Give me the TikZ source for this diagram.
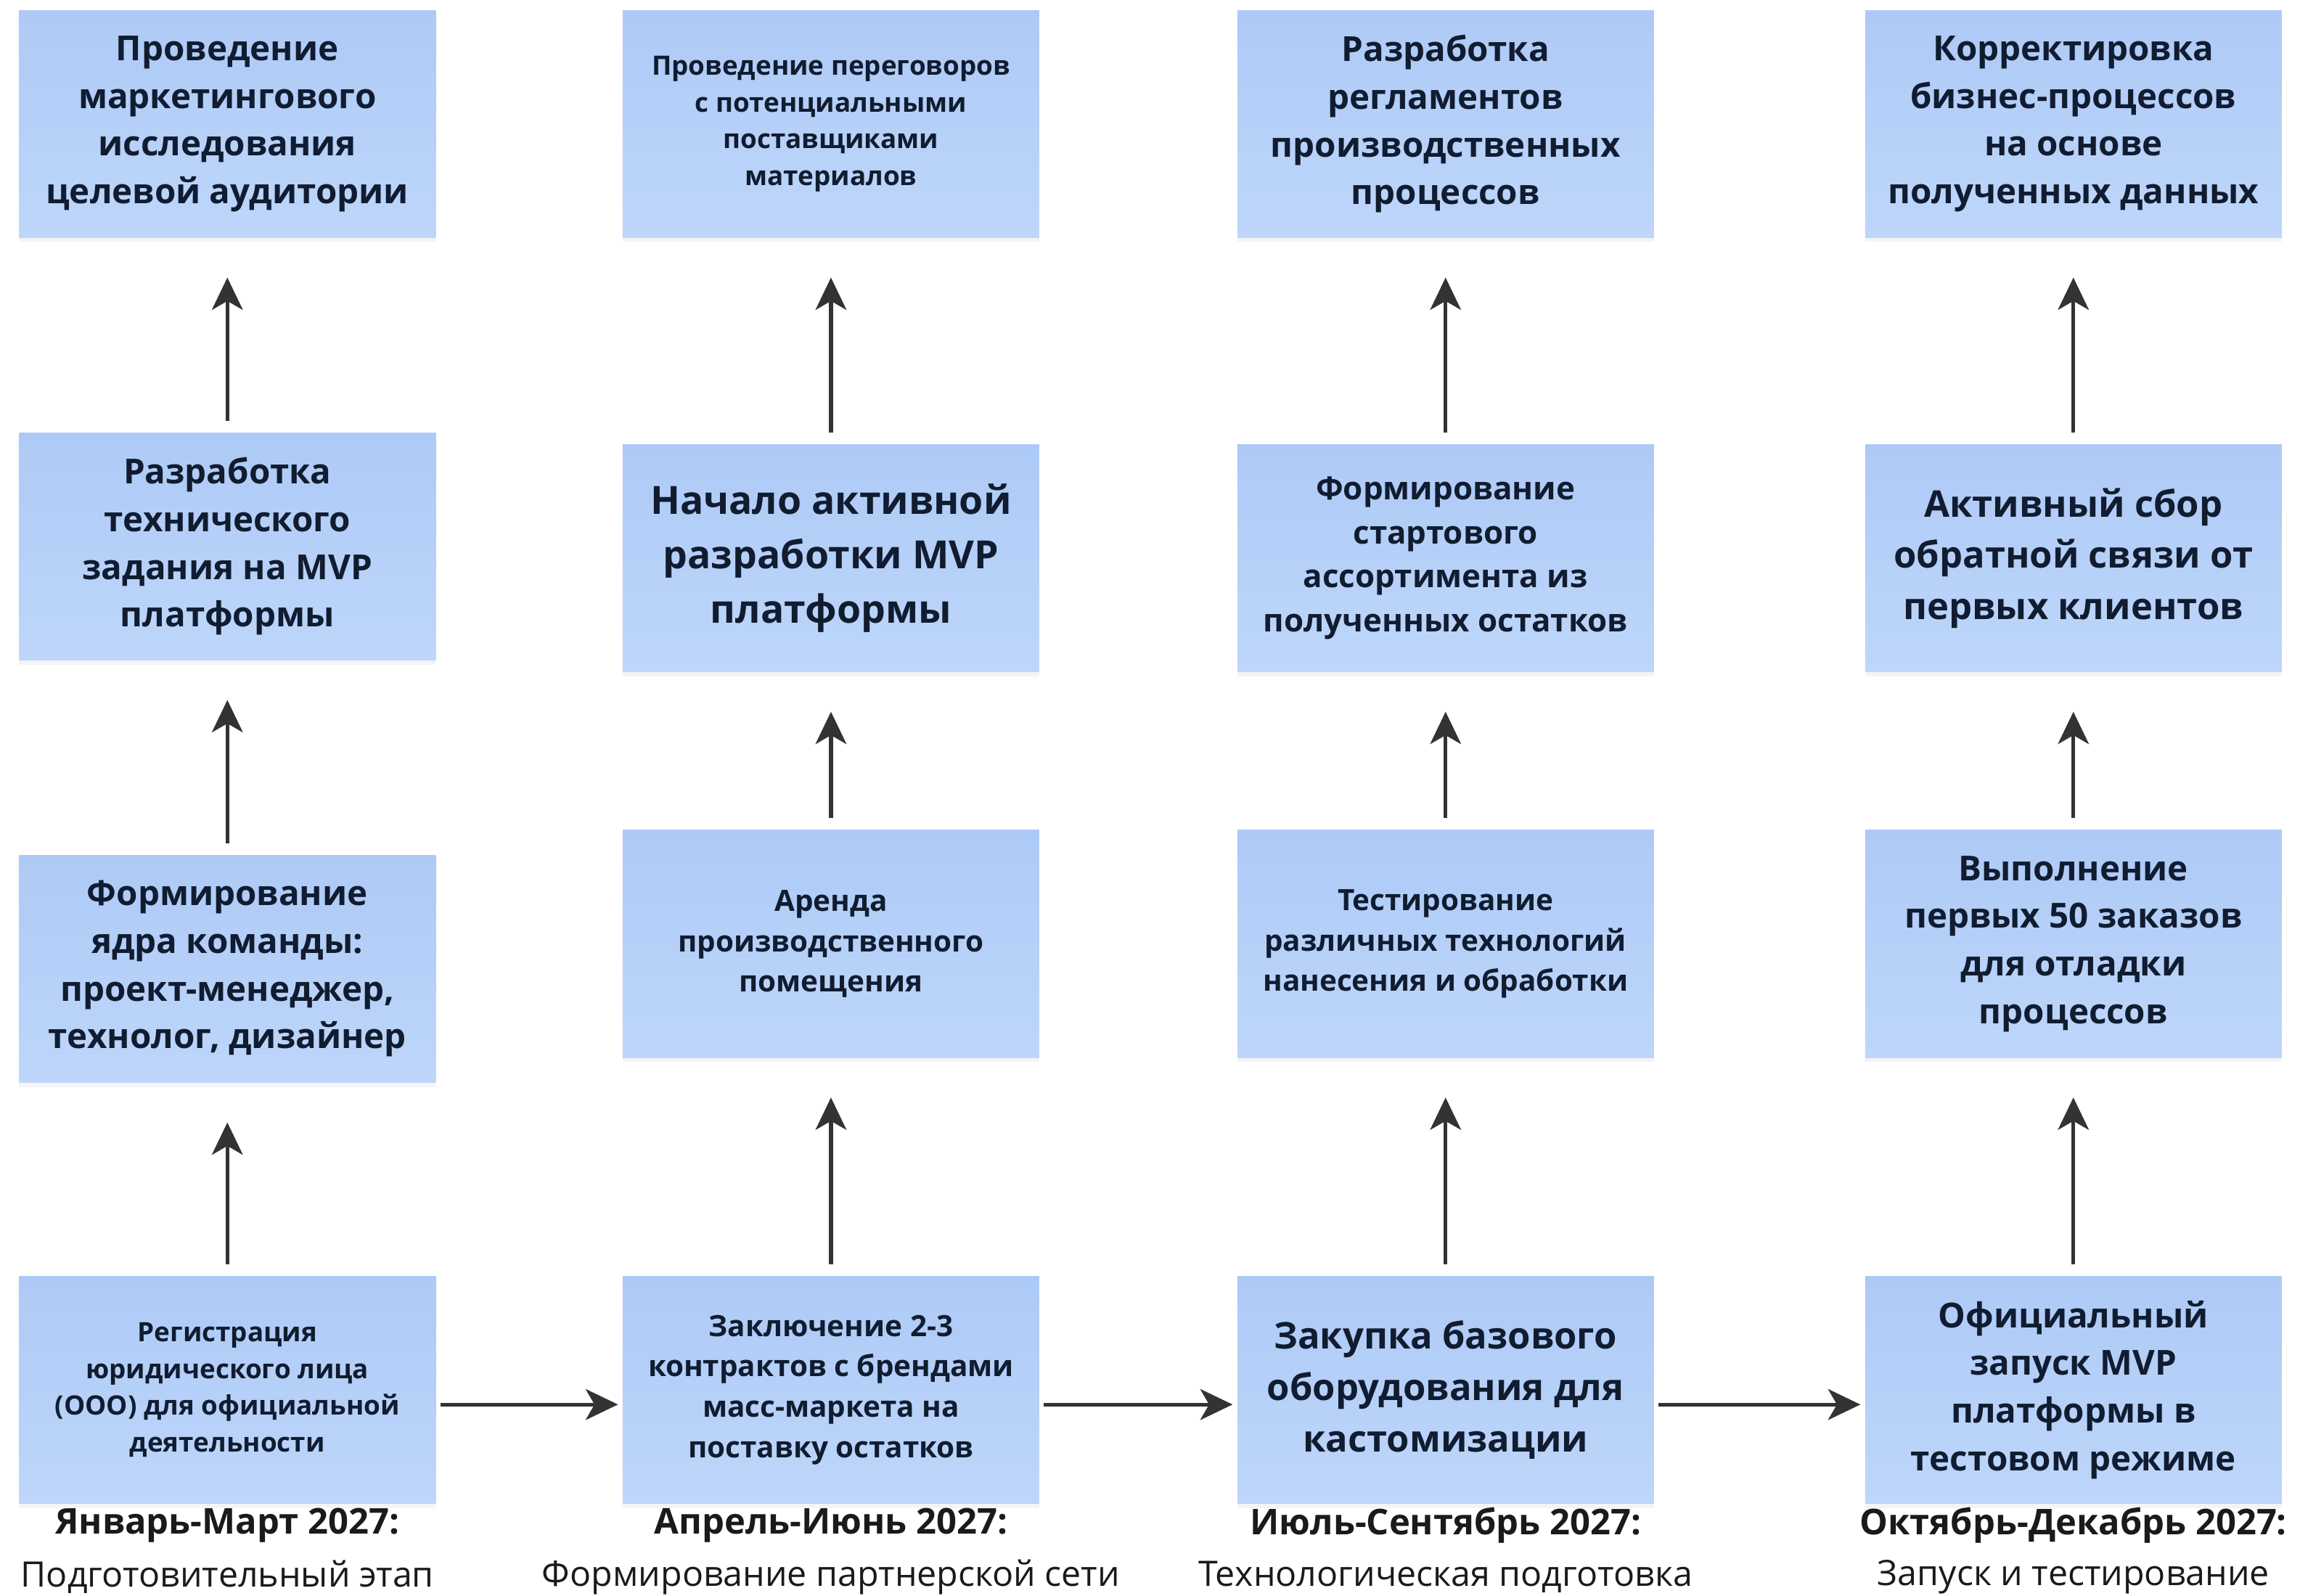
\documentclass[tikz,border=0pt]{standalone}
\usepackage{fontspec}
\setmainfont{Open Sans}
\usetikzlibrary{arrows.meta,shadows}
\definecolor{boxtop}{HTML}{ADCAF6}
\definecolor{boxbot}{HTML}{BED6FA}
\definecolor{txt}{HTML}{111C30}
\definecolor{arr}{HTML}{333333}
\definecolor{labc}{HTML}{1A1A1A}
\tikzset{
  box/.style={rectangle, minimum width=284pt, minimum height=155pt, inner sep=0pt,
    top color=boxtop, bottom color=boxbot, draw=none, text=txt, align=center,
    drop shadow={shadow xshift=0pt, shadow yshift=-3pt, opacity=0.09}},
  ts/.style={font=\fontsize{18.2}{25}\selectfont\bfseries},
  tm/.style={font=\fontsize{20}{27.5}\selectfont\bfseries},
  tn/.style={font=\fontsize{21.7}{30}\selectfont\bfseries},
  tl/.style={font=\fontsize{23.5}{32.5}\selectfont\bfseries},
  tx/.style={font=\fontsize{26.5}{37}\selectfont\bfseries},
  tc/.style={font=\fontsize{25.1}{35}\selectfont\bfseries},
  vup/.style={draw=arr, line width=2.6pt, -{Stealth[length=22pt,width=21pt,inset=6pt]}, shorten <=8pt, shorten >=27pt},
  hright/.style={draw=arr, line width=2.6pt, -{Stealth[length=22pt,width=21pt,inset=6pt]}, shorten <=3pt, shorten >=3pt},
  lab/.style={text=labc, font=\fontsize{24.2}{28}\selectfont\bfseries, inner sep=0pt},
  sub/.style={text=labc, font=\fontsize{23.9}{28}\selectfont, inner sep=0pt}
}
\begin{document}
\begin{tikzpicture}[x=1pt,y=-1pt]
\useasboundingbox (0,0) rectangle (1568,1088);
% column 1
\node[box,ts] (a1) at (155,947.5) {Регистрация\\юридического лица\\(ООО) для официальной\\деятельности};
\node[box,tl] (a2) at (155,660.5) {Формирование\\ядра команды:\\проект-менеджер,\\технолог, дизайнер};
\node[box,tl] (a3) at (155,372.5) {Разработка\\технического\\задания на MVP\\платформы};
\node[box,tl] (a4) at (155,84.5) {Проведение\\маркетингового\\исследования\\целевой аудитории};
% column 2
\node[box,tm] (b1) at (566.5,947.5) {Заключение 2-3\\контрактов с брендами\\масс-маркета на\\поставку остатков};
\node[box,tm] (b2) at (566.5,643.5) {Аренда\\производственного\\помещения};
\node[box,tx] (b3) at (566.5,380.5) {Начало активной\\разработки MVP\\платформы};
\node[box,ts] (b4) at (566.5,84.5) {Проведение переговоров\\с потенциальными\\поставщиками\\материалов};
% column 3
\node[box,tc] (c1) at (985.5,947.5) {Закупка базового\\оборудования для\\кастомизации};
\node[box,tm] (c2) at (985.5,643.5) {Тестирование\\различных технологий\\нанесения и обработки};
\node[box,tn] (c3) at (985.5,380.5) {Формирование\\стартового\\ассортимента из\\полученных остатков};
\node[box,tl] (c4) at (985.5,84.5) {Разработка\\регламентов\\производственных\\процессов};
% column 4
\node[box,tl] (d1) at (1413.5,947.5) {Официальный\\запуск MVP\\платформы в\\тестовом режиме};
\node[box,tl] (d2) at (1413.5,643.5) {Выполнение\\первых 50 заказов\\для отладки\\процессов};
\node[box,tc] (d3) at (1413.5,380.5) {Активный сбор\\обратной связи от\\первых клиентов};
\node[box,tl] (d4) at (1413.5,84.5) {Корректировка\\бизнес-процессов\\на основе\\полученных данных};
% vertical arrows
\foreach \c in {a,b,c,d}{
  \draw[vup] (\c1.north) -- (\c2.south);
  \draw[vup] (\c2.north) -- (\c3.south);
  \draw[vup] (\c3.north) -- (\c4.south);
}
% horizontal arrows
\draw[hright] ([yshift=-10pt]a1.east) -- ([yshift=-10pt]b1.west);
\draw[hright] ([yshift=-10pt]b1.east) -- ([yshift=-10pt]c1.west);
\draw[hright] ([yshift=-10pt]c1.east) -- ([yshift=-10pt]d1.west);
% labels
\node[lab] (l1) at (155,1040) {Январь-Март 2027:};
\node[sub] (s1) at (155,1075) {Подготовительный этап};
\node[lab] (l2) at (566.5,1040) {Апрель-Июнь 2027:};
\node[sub] (s2) at (566.5,1075) {Формирование партнерской сети};
\node[lab] (l3) at (985.5,1040) {Июль-Сентябрь 2027:};
\node[sub] (s3) at (985.5,1075) {Технологическая подготовка};
\node[lab] (l4) at (1413.5,1040) {Октябрь-Декабрь 2027:};
\node[sub] (s4) at (1413.5,1075) {Запуск и тестирование};
\end{tikzpicture}
\end{document}
